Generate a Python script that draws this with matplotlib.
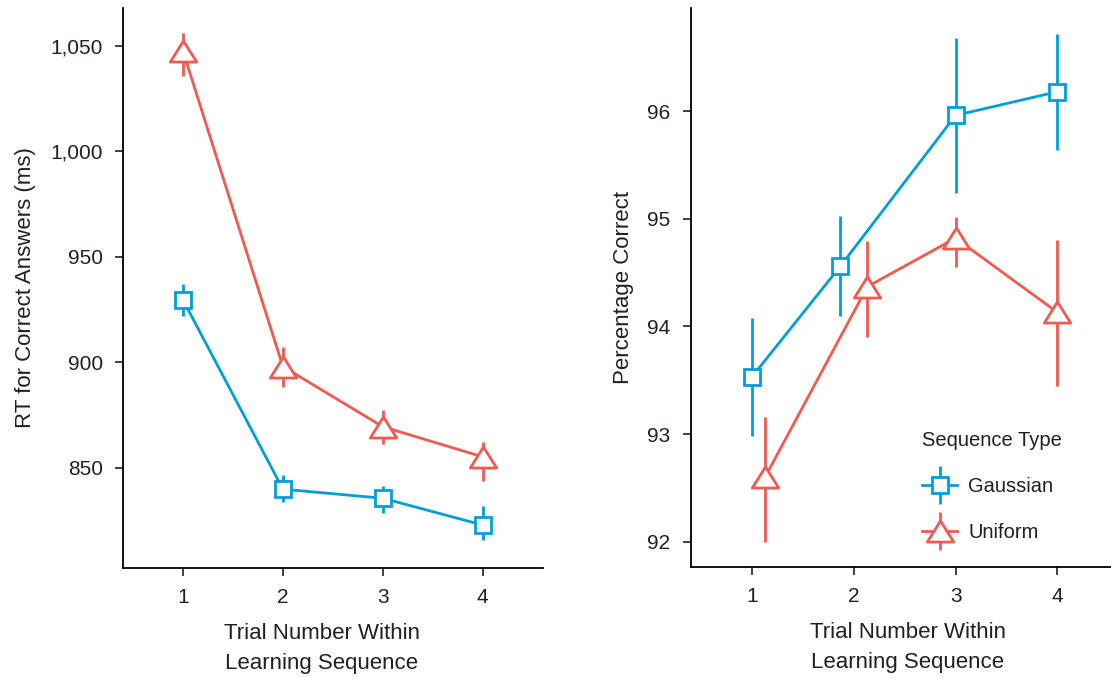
import numpy as np
import matplotlib
matplotlib.use('Agg')
import matplotlib.pyplot as plt
from matplotlib.path import Path
from matplotlib.ticker import FuncFormatter
from matplotlib.container import ErrorbarContainer
from matplotlib.legend_handler import HandlerErrorbar

# =============================================================================
# DATA
# =============================================================================
trials = [1, 2, 3, 4]
series = ['Gaussian', 'Uniform']

# left panel: RT for correct answers (ms)
rt_gauss    = [929.5, 839.8, 835.5, 822.8]
rt_gauss_lo = [921.9, 833.5, 828.6, 815.6]
rt_gauss_hi = [936.9, 846.5, 841.3, 831.9]
rt_unif     = [1047.4, 897.9, 869.4, 855.1]
rt_unif_lo  = [1035.6, 888.4, 861.0, 843.8]
rt_unif_hi  = [1055.9, 907.0, 877.5, 862.3]

# right panel: percentage correct (points are slightly dodged on x)
pc_gauss_x  = [1.00, 1.87, 3.00, 4.00]
pc_gauss    = [93.53, 94.56, 95.96, 96.18]
pc_gauss_lo = [92.98, 94.10, 95.24, 95.64]
pc_gauss_hi = [94.08, 95.03, 96.68, 96.72]
pc_unif_x   = [1.13, 2.135, 3.00, 4.00]
pc_unif     = [92.60, 94.37, 94.82, 94.13]
pc_unif_lo  = [91.995, 93.90, 94.55, 93.45]
pc_unif_hi  = [93.16, 94.79, 95.02, 94.80]

BLUE = '#009fda'
RED = '#f15a4f'
TXT = '#231f20'

plt.rcParams['font.family'] = ['Liberation Sans', 'DejaVu Sans']
plt.rcParams['text.color'] = TXT
plt.rcParams['axes.labelcolor'] = TXT
plt.rcParams['xtick.color'] = TXT
plt.rcParams['ytick.color'] = TXT

# wide, flat triangle marker
tri = Path([(0, 0.8), (-1, -0.8), (1, -0.8), (0, 0.8)],
           [Path.MOVETO, Path.LINETO, Path.LINETO, Path.CLOSEPOLY])


def draw(ax, x, y, lo, hi, color, marker, ms, label):
    y = np.array(y)
    err = [y - np.array(lo), np.array(hi) - y]
    ax.errorbar(x, y, yerr=err, color=color, lw=2, elinewidth=2, capsize=0,
                marker=marker, ms=ms, mfc='white', mec=color, mew=2,
                label=label, zorder=3)


def style(ax):
    for s in ['top', 'right']:
        ax.spines[s].set_visible(False)
    for s in ['left', 'bottom']:
        ax.spines[s].set_linewidth(1.3)
        ax.spines[s].set_color('black')
    ax.tick_params(direction='out', length=6, width=1.2, labelsize=15, pad=8.5)
    ax.set_xlim(0.4, 4.6)
    ax.set_xticks(trials)


fig = plt.figure(figsize=(11.11, 6.78), dpi=100)
ax1 = fig.add_axes([0.1107, 0.1627, 0.3778, 0.8251])
ax2 = fig.add_axes([0.6217, 0.1637, 0.3851, 0.8241])

xlab = 'Trial Number Within\nLearning Sequence'

# --- left: reaction time ---
draw(ax1, trials, rt_gauss, rt_gauss_lo, rt_gauss_hi, BLUE, 's', 12, series[0])
draw(ax1, trials, rt_unif, rt_unif_lo, rt_unif_hi, RED, tri, 19, series[1])
style(ax1)
ax1.set_ylim(802.6, 1067.7)
ax1.set_yticks([850, 900, 950, 1000, 1050])
ax1.yaxis.set_major_formatter(FuncFormatter(lambda v, p: f'{int(v):,}'))
ax1.set_ylabel('RT for Correct Answers (ms)', fontsize=16)
ax1.yaxis.set_label_coords(-0.208, 0.5)
ax1.set_xlabel(xlab, fontsize=16, linespacing=1.58)
ax1.xaxis.set_label_coords(0.474, -0.098)

# --- right: percentage correct ---
draw(ax2, pc_gauss_x, pc_gauss, pc_gauss_lo, pc_gauss_hi, BLUE, 's', 12, series[0])
draw(ax2, pc_unif_x, pc_unif, pc_unif_lo, pc_unif_hi, RED, tri, 19, series[1])
style(ax2)
ax2.set_ylim(91.765, 96.955)
ax2.set_yticks([92, 93, 94, 95, 96])
ax2.set_ylabel('Percentage Correct', fontsize=16)
ax2.yaxis.set_label_coords(-0.133, 0.5)
ax2.set_xlabel(xlab, fontsize=16, linespacing=1.58)
ax2.xaxis.set_label_coords(0.508, -0.098)

leg = ax2.legend(title='Sequence Type', loc='upper left',
                 bbox_to_anchor=(0.8135, 0.391), bbox_transform=fig.transFigure,
                 frameon=False, fontsize=14.5, title_fontsize=14.5,
                 handlelength=1.75, handletextpad=0.55, labelspacing=1.35,
                 handler_map={ErrorbarContainer: HandlerErrorbar(xerr_size=0.5, yerr_size=0.95)})
leg._legend_box.align = 'left'

fig.savefig('out.png', dpi=100)
